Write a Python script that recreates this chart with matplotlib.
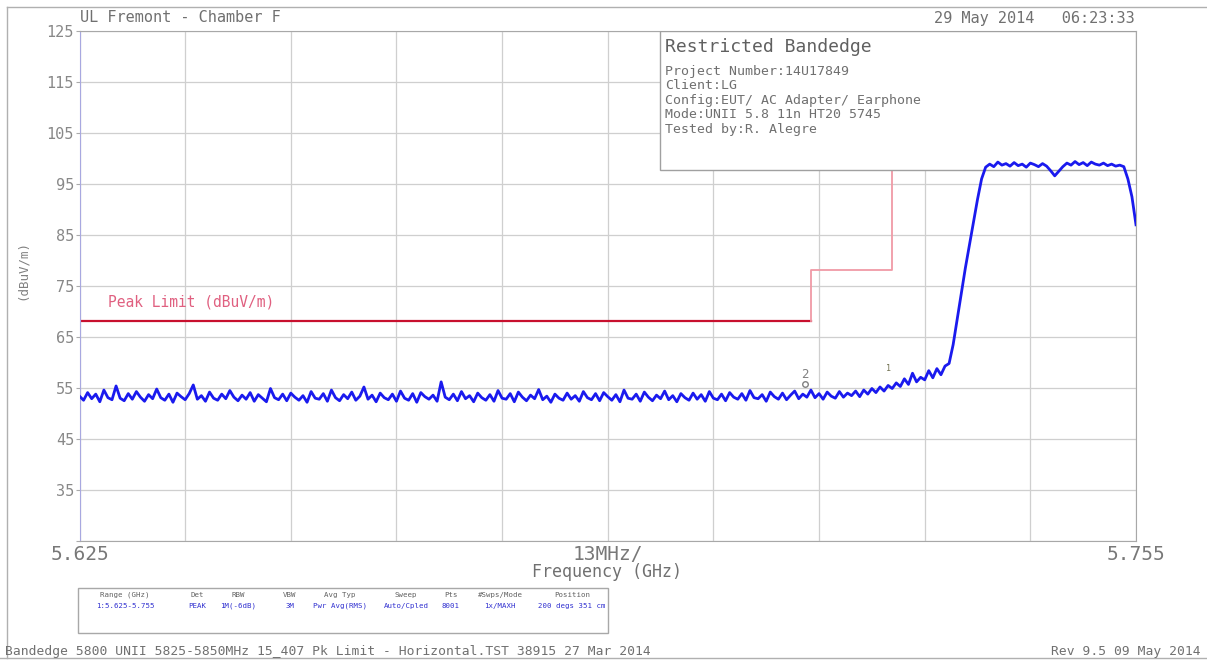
import matplotlib
matplotlib.use('Agg')
import matplotlib.pyplot as plt
from matplotlib.patches import Rectangle
from matplotlib.lines import Line2D
import numpy as np

plt.rcParams['font.family'] = ['DejaVu Sans Mono', 'DejaVu Sans']

# sweep: 5.625 - 5.755 GHz, one reading every 0.5 MHz
f_start, f_stop = 5.625, 5.755
# noise floor 5.625 - 5.7145 GHz
floor_db = [
    53.4, 52.6, 54.1, 52.9, 53.8, 52.3, 54.6, 53.1, 52.7, 55.4, 53.0, 52.5, 53.9, 52.8, 54.3, 53.2, 52.4, 53.7, 52.9, 54.8,
    53.1, 52.6, 53.8, 52.2, 54.0, 53.3, 52.7, 53.9, 55.6, 52.8, 53.5, 52.4, 54.2, 53.0, 52.6, 53.8, 52.9, 54.5, 53.2, 52.5,
    53.6, 52.8, 54.1, 52.4, 53.7, 53.0, 52.3, 54.9, 53.1, 52.7, 53.8, 52.5, 54.0, 53.2, 52.6, 53.5, 52.2, 54.3, 53.0, 52.8,
    53.9, 52.4, 54.6, 53.1, 52.5, 53.7, 52.9, 54.2, 52.6, 53.4, 55.2, 52.8, 53.6, 52.3, 54.0, 53.1, 52.7, 53.8, 52.4, 54.4,
    53.0, 52.6, 53.9, 52.2, 54.1, 53.3, 52.8, 53.6, 52.4, 56.2, 53.2, 52.7, 53.8, 52.5, 54.3, 52.9, 53.5, 52.3, 54.0, 53.1,
    52.6, 53.7, 52.4, 54.5, 53.0, 52.8, 53.9, 52.3, 54.2, 53.2, 52.5, 53.6, 52.9, 54.7, 52.7, 53.4, 52.2, 53.8, 53.0, 52.6,
    54.0, 52.8, 53.5, 52.4, 54.3, 53.1, 52.7, 53.9, 52.5, 54.1, 53.3, 52.6, 53.7, 52.3, 54.6, 53.0, 52.8, 53.8, 52.4, 54.2,
    53.2, 52.5, 53.6, 52.9, 54.4, 52.7, 53.5, 52.3, 53.9, 53.1, 52.6, 54.0, 52.8, 53.7, 52.4, 54.3, 53.0, 52.7, 53.8, 52.5,
    54.1, 53.2, 52.8, 53.9, 52.6, 54.5, 53.1, 52.9, 53.7, 52.4, 54.2, 53.3, 52.8, 54.0, 52.7, 53.6, 54.4, 52.9, 53.8, 53.2,
]
# shoulder 5.715 - 5.7315 GHz
shoulder_db = [
    54.6, 53.1, 53.9, 52.8, 54.2, 53.4, 53.0, 54.3, 53.2, 54.0, 53.5, 54.4, 53.3, 54.6, 53.8, 54.9, 54.1, 55.2, 54.4, 55.5,
    54.9, 56.0, 55.3, 56.8, 55.7, 57.9, 56.2, 57.1, 56.6, 58.4, 57.0, 58.8, 57.6, 59.3,
]
# rising edge 5.732 - 5.7365 GHz
edge_db = [59.8, 63.5, 68.5, 73.5, 78.5, 83.0, 87.5, 92.0, 96.0, 98.3]
# in-band top 5.737 - 5.753 GHz
top_db = [
    98.9, 98.4, 99.3, 98.7, 99.0, 98.5, 99.2, 98.6, 98.9, 98.3, 99.1, 98.8, 98.4, 99.0, 98.5, 97.6, 96.6,
    97.5, 98.4, 99.1, 98.7, 99.4, 98.8, 99.2, 98.6, 99.3, 98.9, 98.7, 99.1, 98.6, 98.9, 98.5, 98.7,
]
# falling edge 5.7535 - 5.755 GHz
fall_db = [98.4, 96.0, 92.5, 87.0]

trace_db = floor_db + shoulder_db + edge_db + top_db + fall_db
trace_f = np.linspace(f_start, f_stop, len(trace_db))

# FCC 15.407 peak limit (dBuV/m)
limit_f1 = [5.625, 5.715]
limit_db1 = [68.2, 68.2]
limit_f2 = [5.715, 5.715, 5.725, 5.725]
limit_db2 = [68.2, 78.2, 78.2, 122.2]

y_ticks = [25, 35, 45, 55, 65, 75, 85, 95, 105, 115, 125]
y_labels = [''] + [str(v) for v in y_ticks[1:]]
x_ticks = [f_start + 0.013 * k for k in range(11)]
x_labels = ['5.625', '', '', '', '', '13MHz/', '', '', '', '', '5.755']

info_lines = ['Project Number:14U17849', 'Client:LG', 'Config:EUT/ AC Adapter/ Earphone',
              'Mode:UNII 5.8 11n HT20 5745', 'Tested by:R. Alegre']
tbl_heads = ['Range (GHz)', 'Det', 'RBW', 'VBW', 'Avg Typ', 'Sweep', 'Pts', '#Swps/Mode', 'Position']
tbl_vals = ['1:5.625-5.755', 'PEAK', '1M(-6dB)', '3M', 'Pwr Avg(RMS)', 'Auto/Cpled', '8001', '1x/MAXH', '200 degs 351 cm']
tbl_x = [125, 197, 238, 290, 340, 406, 451, 500, 572]

W, H = 1207, 661
fig = plt.figure(figsize=(W / 100, H / 100), dpi=100)
fig.patch.set_facecolor('white')


def fx(px):
    return px / W


def fy(py):
    return 1 - py / H


ax = fig.add_axes([fx(79.5), fy(541), fx(1136) - fx(79.5), fy(31) - fy(541)])
ax.set_xlim(f_start, f_stop)
ax.set_ylim(25, 125)
ax.set_xticks(x_ticks)
ax.set_xticklabels(x_labels, fontsize=14, color='#787878')
ax.set_yticks(y_ticks)
ax.set_yticklabels(y_labels, fontsize=11, color='#888888')
ax.tick_params(axis='x', length=0, pad=3)
ax.tick_params(axis='y', length=3, color='#aaaaaa', pad=1)
ax.grid(color='#cfcfcf', lw=0.9, zorder=1)
for s in ['top', 'right', 'bottom']:
    ax.spines[s].set_color('#a8a8a8')
ax.spines['left'].set_color('#a8a8e0')

ax.plot(limit_f1, limit_db1, color='#c8102e', lw=1.6, zorder=2)
ax.plot(limit_f2, limit_db2, color='#f09aa6', lw=1.3, zorder=2)
ax.text(5.6285, 71.0, 'Peak Limit (dBuV/m)', fontsize=10.5, color='#e06080', zorder=2)

# info box
ax.add_patch(Rectangle((0.5495, 0.7275), 0.4505, 0.2725, transform=ax.transAxes,
                       facecolor='white', edgecolor='#a0a0a0', lw=1.0, zorder=3))
ax.text(0.554, 0.968, 'Restricted Bandedge', transform=ax.transAxes, fontsize=13,
        color='#606060', va='center', zorder=4)
for k, line in enumerate(info_lines):
    ax.text(0.554, 0.921 - k * 0.0285, line, transform=ax.transAxes, fontsize=9.5,
            color='#707070', va='center', zorder=4)

ax.plot(trace_f, trace_db, color='#1a1aee', lw=2.0, zorder=5)

# markers
ax.text(5.7143, 57.0, '2', fontsize=9, color='#808080', ha='center', zorder=6)
ax.plot([5.7143], [55.8], marker='o', ms=4, mfc='none', mec='#808080', zorder=6)
ax.text(5.7245, 58.4, '1', fontsize=6, color='#707050', ha='center', zorder=6)

# figure texts
fig.text(fx(80), fy(18), 'UL Fremont - Chamber F', fontsize=11, color='#707070', va='center')
fig.text(fx(1135), fy(18), '29 May 2014   06:23:33', fontsize=11, color='#707070', va='center', ha='right')
fig.text(fx(22), fy(270), '(dBuV/m)', fontsize=9, color='#808080', rotation=90, va='center', ha='center')
fig.text(fx(607), fy(572), 'Frequency (GHz)', fontsize=12, color='#707070', va='center', ha='center')

# settings table
fig.add_artist(Rectangle((fx(78), fy(633)), fx(608) - fx(78), fy(588) - fy(633),
                         transform=fig.transFigure, facecolor='none', edgecolor='#a8a8a8', lw=1.0))
for xp, hd, vl in zip(tbl_x, tbl_heads, tbl_vals):
    fig.text(fx(xp), fy(595), hd, fontsize=5.3, color='#606060', ha='center', va='center')
    fig.text(fx(xp), fy(606), vl, fontsize=5.3, color='#3030d0', ha='center', va='center')

fig.text(fx(5), fy(651), 'Bandedge 5800 UNII 5825-5850MHz 15_407 Pk Limit - Horizontal.TST 38915 27 Mar 2014',
         fontsize=9.4, color='#707070', va='center')
fig.text(fx(1201), fy(651), 'Rev 9.5 09 May 2014', fontsize=9.4, color='#707070', va='center', ha='right')

# outer frame
for xs, ys in [([7, W], [7, 7]), ([7, 7], [7, 658]), ([0, W], [658, 658])]:
    fig.add_artist(Line2D([fx(v) for v in xs], [fy(v) for v in ys], color='#b0b0b0', lw=1.0))

fig.savefig('out.png', dpi=100)
